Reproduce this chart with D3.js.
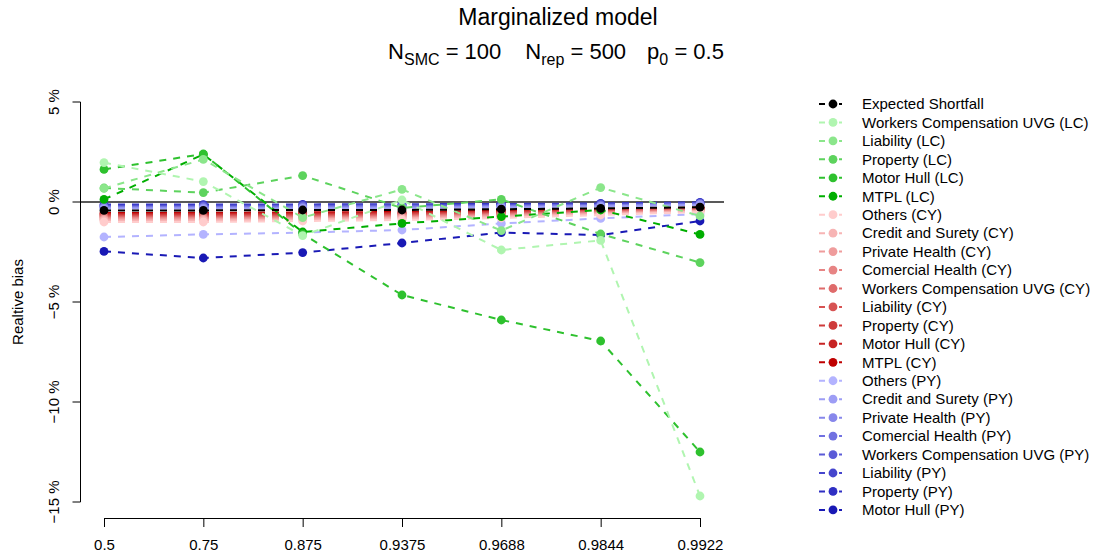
<!DOCTYPE html>
<html>
<head>
<meta charset="utf-8">
<script src="https://cdn.jsdelivr.net/npm/d3@7/dist/d3.min.js"></script>
<style>
  body { margin: 0; background: #fff; }
  svg { display: block; font-family: "Liberation Sans", Arial, Helvetica, sans-serif; }
</style>
</head>
<body>
<svg id="chart" width="1096" height="553"></svg>
<script>
// x categories (tick labels) and y ticks
const xLabels = ['0.5', '0.75', '0.875', '0.9375', '0.9688', '0.9844', '0.9922'];
const yTicks = [5, 0, -5, -10, -15];

// relative bias in %, one array per series
const esVals = [-0.42, -0.42, -0.40, -0.40, -0.36, -0.32, -0.26];

const wcLC = [1.97, 1.02, -1.68, 0.10, -2.40, -1.92, -14.70];
const liabLC = [0.68, 2.13, -0.78, 0.63, -1.43, 0.72, -0.70];
const propLC = [0.70, 0.47, 1.32, -0.30, 0.13, -1.60, -3.03];
const mhLC = [1.63, 2.40, -1.60, -4.65, -5.90, -6.95, -12.50];
const mtplLC = [0.13, 2.38, -1.50, -1.07, -0.73, -0.40, -1.62];

const othersCY = [-1.00, -1.00, -0.95, -0.90, -0.80, -0.65, -0.50];
const csCY = [-0.92, -0.92, -0.88, -0.83, -0.74, -0.60, -0.47];
const privCY = [-0.86, -0.86, -0.82, -0.78, -0.68, -0.56, -0.44];
const comCY = [-0.80, -0.80, -0.77, -0.73, -0.63, -0.52, -0.41];
const wcCY = [-0.75, -0.75, -0.72, -0.68, -0.59, -0.49, -0.38];
const liabCY = [-0.70, -0.70, -0.67, -0.63, -0.55, -0.45, -0.36];
const propCY = [-0.65, -0.64, -0.62, -0.58, -0.51, -0.42, -0.33];
const mhCY = [-0.60, -0.59, -0.57, -0.54, -0.47, -0.39, -0.31];
const mtplCY = [-0.55, -0.54, -0.52, -0.50, -0.43, -0.36, -0.28];

const othersPY = [-1.75, -1.62, -1.53, -1.40, -1.07, -0.82, -0.60];
const csPY = [-0.33, -0.33, -0.32, -0.30, -0.27, -0.22, -0.15];
const privPY = [-0.29, -0.29, -0.28, -0.26, -0.23, -0.19, -0.12];
const comPY = [-0.25, -0.25, -0.24, -0.22, -0.20, -0.16, -0.10];
const wcPY = [-0.21, -0.21, -0.20, -0.19, -0.17, -0.13, -0.07];
const liabPY = [-0.17, -0.17, -0.16, -0.15, -0.13, -0.10, -0.05];
const propPY = [-0.13, -0.13, -0.12, -0.11, -0.10, -0.07, -0.02];
const mhPY = [-2.47, -2.80, -2.53, -2.05, -1.53, -1.65, -0.95];

const seriesNames = [
  'Expected Shortfall',
  'Workers Compensation UVG (LC)', 'Liability (LC)', 'Property (LC)', 'Motor Hull (LC)', 'MTPL (LC)',
  'Others (CY)', 'Credit and Surety (CY)', 'Private Health (CY)', 'Comercial Health (CY)',
  'Workers Compensation UVG (CY)', 'Liability (CY)', 'Property (CY)', 'Motor Hull (CY)', 'MTPL (CY)',
  'Others (PY)', 'Credit and Surety (PY)', 'Private Health (PY)', 'Comercial Health (PY)',
  'Workers Compensation UVG (PY)', 'Liability (PY)', 'Property (PY)', 'Motor Hull (PY)'
];
const seriesValues = [
  esVals,
  wcLC, liabLC, propLC, mhLC, mtplLC,
  othersCY, csCY, privCY, comCY, wcCY, liabCY, propCY, mhCY, mtplCY,
  othersPY, csPY, privPY, comPY, wcPY, liabPY, propPY, mhPY
];
const seriesColors = [
  '#000000',
  '#b0f5b0', '#8be68b', '#5dd35d', '#2ec12e', '#00ae00',
  '#ffcccc', '#f7b4b4', '#ef9c9c', '#e78484', '#df6b6b', '#d75353', '#cf3b3b', '#c72323', '#bf0000',
  '#b3b3ff', '#9d9df5', '#8787eb', '#7171e1', '#5b5bd7', '#4545cd', '#2f2fc3', '#1919b5'
];

const svg = d3.select('#chart');

// plot region (R style, 4% padding round the data)
const x = d3.scalePoint().domain(xLabels).range([104, 700]);
const y = d3.scaleLinear().domain([-15.8, 5.8]).range([518, 86]);

const series = seriesNames.map((name, i) => ({
  name: name,
  color: seriesColors[i],
  values: seriesValues[i].map((v, j) => ({x: xLabels[j], v: v}))
}));

// title
svg.append('text')
    .attr('x', 558).attr('y', 25)
    .attr('text-anchor', 'middle')
    .style('font-size', '23px')
    .text('Marginalized model');

const sub = svg.append('text')
    .attr('x', 556).attr('y', 59)
    .attr('text-anchor', 'middle')
    .style('font-size', '22px');
function addSub(main, s, rest, gap) {
  sub.append('tspan').attr('dx', gap).text(main);
  sub.append('tspan').attr('dy', 6).style('font-size', '16px').text(s);
  sub.append('tspan').attr('dy', -6).text(rest);
}
addSub('N', 'SMC', ' = 100', 0);
addSub('N', 'rep', ' = 500', 24);
addSub('p', '0', ' = 0.5', 21);

// zero reference line
svg.append('line')
    .attr('x1', 80).attr('x2', 724)
    .attr('y1', y(0)).attr('y2', y(0))
    .attr('stroke', '#222').attr('stroke-width', 1.3);

// series lines and points, ES drawn last so it sits on top
const line = d3.line()
    .x((d) => x(d.x))
    .y((d) => y(d.v));

const order = d3.range(series.length - 1, -1, -1);
order.forEach((i) => {
  const s = series[i];
  const g = svg.append('g').attr('class', 'series');
  g.append('path')
      .attr('d', line(s.values))
      .attr('fill', 'none')
      .attr('stroke', s.color)
      .attr('stroke-width', 2)
      .attr('stroke-dasharray', '7,7');
  g.selectAll('circle')
      .data(s.values)
      .enter()
      .append('circle')
      .attr('cx', (d) => x(d.x))
      .attr('cy', (d) => y(d.v))
      .attr('r', 4.4)
      .attr('fill', s.color);
});

// x axis
const xAxis = svg.append('g')
    .attr('transform', 'translate(0,518)')
    .call(d3.axisBottom(x).tickSize(9).tickPadding(12));
xAxis.select('.domain').attr('d', 'M' + x(xLabels[0]) + ',0.5H' + x(xLabels[xLabels.length - 1]));
xAxis.selectAll('text').style('font-size', '15px').attr('fill', '#000');

// y axis
const yAxis = svg.append('g')
    .attr('transform', 'translate(80.5,0)')
    .call(d3.axisLeft(y).tickValues(yTicks).tickSize(8).tickFormat((d) => (d < 0 ? '\u2212' + (-d) : d) + ' %'));
yAxis.select('.domain').attr('d', 'M0,' + y(5) + 'V' + y(-15));
yAxis.selectAll('text')
    .style('font-size', '15px')
    .attr('fill', '#000')
    .attr('text-anchor', 'middle')
    .attr('dy', 0)
    .attr('x', 0)
    .attr('y', 0)
    .attr('transform', (d) => 'translate(-22,' + y(d) + ') rotate(-90)');
yAxis.selectAll('.tick').attr('transform', null);
yAxis.selectAll('.tick line').attr('transform', (d) => 'translate(0,' + y(d) + ')');

svg.append('text')
    .attr('transform', 'translate(23,' + y(-5) + ') rotate(-90)')
    .attr('text-anchor', 'middle')
    .style('font-size', '15px')
    .text('Realtive bias');

// legend
const legend = svg.append('g').attr('class', 'legend');
const rows = legend.selectAll('g')
    .data(series)
    .enter()
    .append('g')
    .attr('transform', (d, i) => 'translate(0,' + (104 + i * 18.45) + ')');
rows.append('line')
    .attr('x1', 819).attr('x2', 842)
    .attr('stroke', (d) => d.color)
    .attr('stroke-width', 2)
    .attr('stroke-dasharray', '6,4');
rows.append('circle')
    .attr('cx', 833).attr('r', 4.4)
    .attr('fill', (d) => d.color);
rows.append('text')
    .attr('x', 862).attr('dy', '0.35em')
    .style('font-size', '15px')
    .text((d) => d.name);
</script>
</body>
</html>
